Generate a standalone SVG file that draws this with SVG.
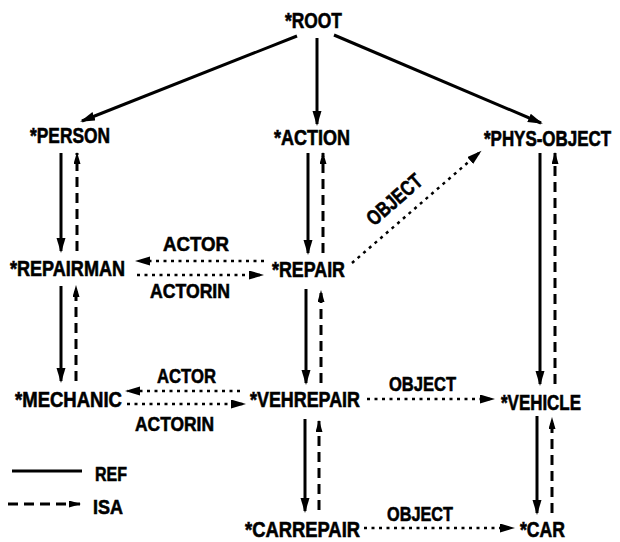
<svg xmlns="http://www.w3.org/2000/svg" width="620" height="542" viewBox="0 0 620 542">
<style>
text{font-family:"Liberation Sans",Arial,sans-serif;font-weight:bold;fill:#000;stroke:#000;stroke-width:0.6}
.n{font-size:22px}
.l{font-size:21px}
.ref{stroke:#000;stroke-width:3;fill:none}
.isa{stroke:#000;stroke-width:3;fill:none;stroke-dasharray:10 6}
.rel{stroke:#000;stroke-width:2.5;fill:none;stroke-dasharray:3 4.5}
</style>
<defs>
<marker id="ah" markerUnits="userSpaceOnUse" markerWidth="16" markerHeight="10" refX="13" refY="4.5" orient="auto">
<path d="M0,0 L15,4.5 L0,9 z" fill="#000"/>
</marker>
<marker id="ahs" markerUnits="userSpaceOnUse" markerWidth="14" markerHeight="8" refX="11" refY="3.5" orient="auto">
<path d="M0,0 L12,3.5 L0,7 z" fill="#000"/>
</marker>
</defs>
<rect width="620" height="542" fill="#fff"/>
<g id="connectors">
<line class="ref" x1="297" y1="36" x2="82" y2="121" marker-end="url(#ah)"/>
<line class="ref" x1="317" y1="38" x2="317" y2="124" marker-end="url(#ah)"/>
<line class="ref" x1="334" y1="35" x2="541" y2="123" marker-end="url(#ah)"/>
<line class="ref" x1="61" y1="153" x2="61" y2="251" marker-end="url(#ah)"/>
<line class="isa" x1="77" y1="251" x2="77" y2="153" marker-end="url(#ahs)"/>
<line class="ref" x1="61" y1="286" x2="61" y2="381" marker-end="url(#ah)"/>
<line class="isa" x1="76" y1="381" x2="76" y2="286" marker-end="url(#ahs)"/>
<line class="ref" x1="308" y1="153" x2="308" y2="253" marker-end="url(#ah)"/>
<line class="isa" x1="323" y1="253" x2="323" y2="153" marker-end="url(#ahs)"/>
<line class="ref" x1="306" y1="289" x2="306" y2="383" marker-end="url(#ah)"/>
<line class="isa" x1="321" y1="383" x2="321" y2="291" marker-end="url(#ahs)"/>
<line class="ref" x1="305" y1="419" x2="305" y2="511" marker-end="url(#ah)"/>
<line class="isa" x1="319" y1="510" x2="319" y2="421" marker-end="url(#ahs)"/>
<line class="ref" x1="540" y1="153" x2="540" y2="384" marker-end="url(#ah)"/>
<line class="isa" x1="555" y1="384" x2="555" y2="153" marker-end="url(#ahs)"/>
<line class="ref" x1="537" y1="416" x2="537" y2="513" marker-end="url(#ah)"/>
<line class="isa" x1="552" y1="513" x2="552" y2="418" marker-end="url(#ahs)"/>
<line class="rel" x1="264" y1="261" x2="137" y2="261" marker-end="url(#ah)"/>
<line class="rel" x1="137" y1="275" x2="262" y2="275" marker-end="url(#ah)"/>
<line class="rel" x1="240" y1="391" x2="127" y2="391" marker-end="url(#ah)"/>
<line class="rel" x1="127" y1="404" x2="244" y2="404" marker-end="url(#ah)"/>
<line class="rel" x1="367" y1="399" x2="493" y2="399" marker-end="url(#ah)"/>
<line class="rel" x1="364" y1="528" x2="513" y2="528" marker-end="url(#ah)"/>
<line class="rel" x1="352" y1="263" x2="480" y2="152" marker-end="url(#ah)"/>
<text class="l" x="163" y="251" textLength="66" lengthAdjust="spacingAndGlyphs">ACTOR</text>
<text class="l" x="150" y="298" textLength="80" lengthAdjust="spacingAndGlyphs">ACTORIN</text>
<text class="l" x="157" y="383" textLength="59" lengthAdjust="spacingAndGlyphs">ACTOR</text>
<text class="l" x="135" y="431" textLength="79" lengthAdjust="spacingAndGlyphs">ACTORIN</text>
<text class="l" x="389" y="391" textLength="67" lengthAdjust="spacingAndGlyphs">OBJECT</text>
<text class="l" x="387" y="521" textLength="66" lengthAdjust="spacingAndGlyphs">OBJECT</text>
<text class="l" x="0" y="0" text-anchor="middle" textLength="66" lengthAdjust="spacingAndGlyphs" transform="translate(399,205) rotate(-41)">OBJECT</text>
</g>
<g id="root"><text class="n" x="285" y="28" textLength="57" lengthAdjust="spacingAndGlyphs">*ROOT</text></g>
<g id="person"><text class="n" x="30" y="143" textLength="80" lengthAdjust="spacingAndGlyphs">*PERSON</text></g>
<g id="action"><text class="n" x="274" y="145" textLength="76" lengthAdjust="spacingAndGlyphs">*ACTION</text></g>
<g id="phys-object"><text x="0" y="0" style="font-size:17px;stroke-width:0.5" textLength="127" lengthAdjust="spacingAndGlyphs" transform="translate(484,146) scale(1,1.29)">*PHYS-OBJECT</text></g>
<g id="repairman"><text class="n" x="10" y="276" textLength="115" lengthAdjust="spacingAndGlyphs">*REPAIRMAN</text></g>
<g id="repair"><text class="n" x="272" y="277" textLength="73" lengthAdjust="spacingAndGlyphs">*REPAIR</text></g>
<g id="mechanic"><text class="n" x="15" y="407" textLength="107" lengthAdjust="spacingAndGlyphs">*MECHANIC</text></g>
<g id="vehrepair"><text class="n" x="250" y="407" textLength="110" lengthAdjust="spacingAndGlyphs">*VEHREPAIR</text></g>
<g id="vehicle"><text class="n" x="501" y="410" textLength="80" lengthAdjust="spacingAndGlyphs">*VEHICLE</text></g>
<g id="carrepair"><text class="n" x="245" y="537" textLength="115" lengthAdjust="spacingAndGlyphs">*CARREPAIR</text></g>
<g id="car"><text class="n" x="520" y="537" textLength="45" lengthAdjust="spacingAndGlyphs">*CAR</text></g>
<g id="legend">
<line class="ref" x1="12" y1="471" x2="82" y2="471"/>
<text class="l" x="95" y="481" textLength="32" lengthAdjust="spacingAndGlyphs">REF</text>
<line class="isa" x1="8" y1="504" x2="80" y2="504" marker-end="url(#ahs)"/>
<text class="l" x="93" y="514" textLength="30" lengthAdjust="spacingAndGlyphs">ISA</text>
</g>
</svg>
